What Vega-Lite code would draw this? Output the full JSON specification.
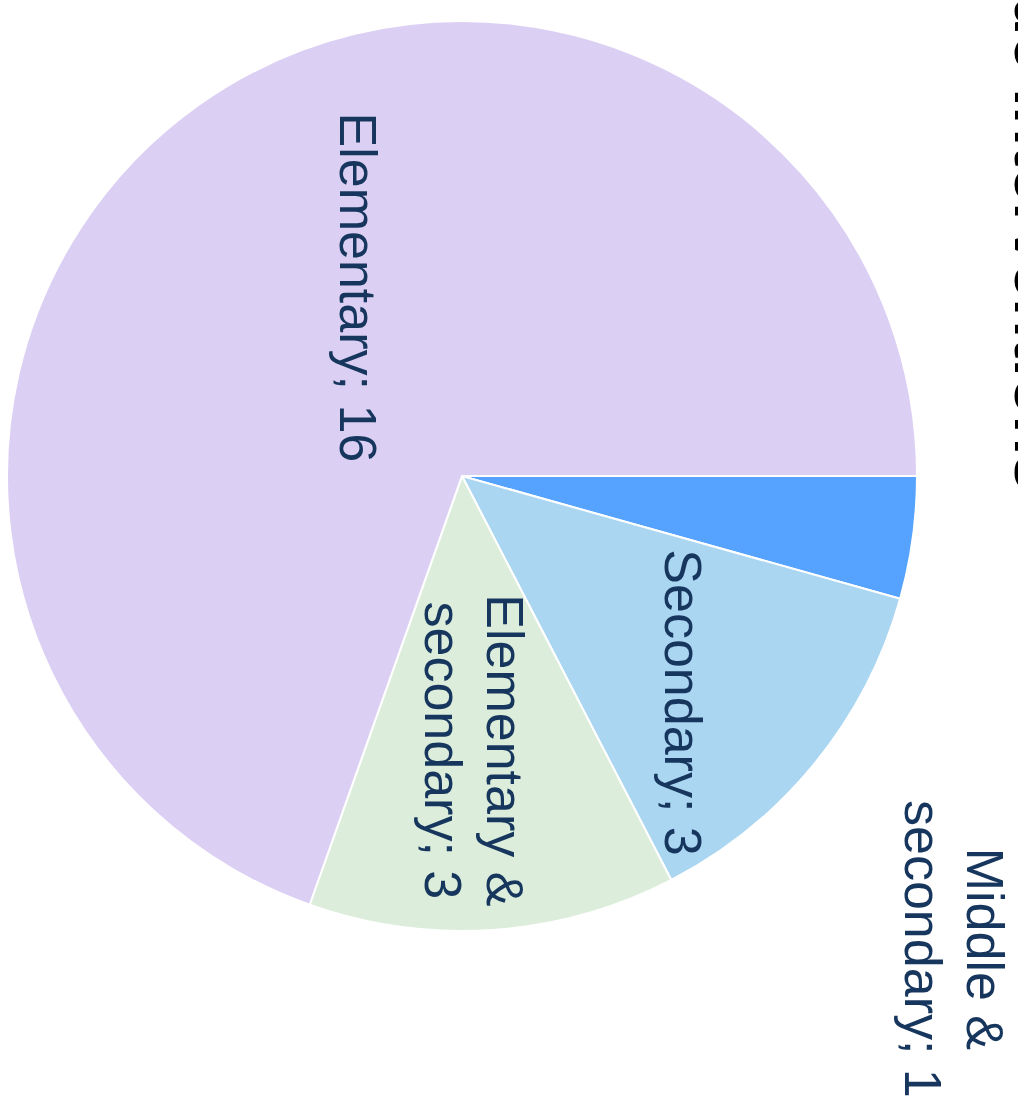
{
  "$schema": "https://vega.github.io/schema/vega-lite/v6.json",
  "width": 924,
  "height": 952,
  "autosize": {"type": "none"},
  "padding": {"left": 0, "top": 0, "right": 94, "bottom": 147},
  "background": "white",
  "config": {"view": {"stroke": null}},
  "title": {
    "text": "Schoolwide Interventions",
    "orient": "right",
    "anchor": "start",
    "frame": "group",
    "angle": 90,
    "baseline": "alphabetic",
    "fontSize": 64,
    "font": "Liberation Sans",
    "fontWeight": "bold",
    "color": "#000000",
    "offset": -58,
    "dx": -285
  },
  "data": {
    "values": [
      {"category": "Middle & secondary", "count": 1, "label": "Middle &\nsecondary; 1"},
      {"category": "Secondary", "count": 3, "label": "Secondary; 3"},
      {"category": "Elementary & secondary", "count": 3, "label": "Elementary &\nsecondary; 3"},
      {"category": "Elementary", "count": 16, "label": "Elementary; 16"}
    ]
  },
  "layer": [
    {
      "mark": {"type": "arc", "radius": 455, "stroke": "#ffffff", "strokeWidth": 2},
      "encoding": {
        "theta": {
          "field": "count",
          "type": "quantitative",
          "stack": true,
          "scale": {"range": [1.5707963, 7.8539816]}
        },
        "order": {"field": "count", "type": "quantitative", "sort": "ascending"},
        "color": {
          "field": "category",
          "type": "nominal",
          "scale": {
            "domain": ["Middle & secondary", "Secondary", "Elementary & secondary", "Elementary"],
            "range": ["#55A3FF", "#ABD6F2", "#DCEEDB", "#DBCFF3"]
          },
          "legend": null
        }
      }
    },
    {
      "mark": {
        "type": "text",
        "font": "Liberation Sans",
        "fontSize": 52,
        "color": "#17365D",
        "angle": 90,
        "align": "center",
        "baseline": "middle",
        "lineBreak": "\n",
        "lineHeight": 62,
        "radius": {"expr": "datum.category === 'Elementary' ? 215 : datum.category === 'Secondary' ? 313 : datum.category === 'Elementary & secondary' ? 274 : 550"},
        "dx": {"expr": "datum.category === 'Elementary' ? -13 : datum.category === 'Secondary' ? 29 : datum.category === 'Elementary & secondary' ? 1 : 398"},
        "dy": {"expr": "datum.category === 'Elementary' ? -18 : datum.category === 'Secondary' ? 24 : datum.category === 'Elementary & secondary' ? -22 : 24"}
      },
      "encoding": {
        "theta": {
          "field": "count",
          "type": "quantitative",
          "stack": true,
          "scale": {"range": [1.5707963, 7.8539816]}
        },
        "order": {"field": "count", "type": "quantitative", "sort": "ascending"},
        "text": {"field": "label", "type": "nominal"}
      }
    }
  ]
}
